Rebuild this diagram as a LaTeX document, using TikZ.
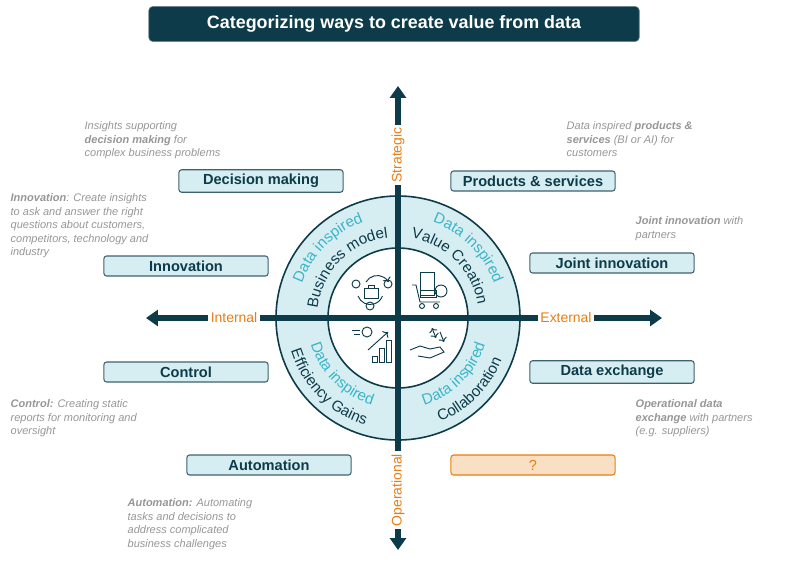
\documentclass[tikz,border=0pt]{standalone}
\usepackage{fontspec}
\setmainfont{Liberation Sans}
\usetikzlibrary{positioning, decorations.text, arrows.meta}
\definecolor{darkteal}{RGB}{14, 59, 73}
\definecolor{lightteal}{RGB}{214, 238, 242}
\definecolor{accentorange}{RGB}{230, 126, 20}
\definecolor{insightcyan}{RGB}{60, 180, 200}
\definecolor{notegray}{RGB}{150, 150, 150}
\newcommand{\arcfont}{\fontsize{11.5}{13}\selectfont}

\begin{document}
\begin{tikzpicture}[
    x=0.0265cm, y=-0.0265cm,
    catbox/.style={rectangle, rounded corners=2pt, draw=darkteal!80, fill=lightteal, thick, minimum width=4.35cm, minimum height=0.53cm, font=\fontsize{11}{12}\selectfont\bfseries, text=darkteal},
    qbox/.style={catbox, draw=accentorange, fill=accentorange!25, text=accentorange, font=\fontsize{11}{12}\selectfont},
    note/.style={align=left, text=notegray, font=\fontsize{8.3}{10.2}\selectfont\itshape},
    axislabel/.style={fill=white, text=accentorange, font=\fontsize{10.5}{12}\selectfont, inner sep=2pt},
    axis/.style={line width=4pt, darkteal, -{Triangle[length=9pt, width=12pt]}},
    arcpath/.style={decorate, decoration={text along path, text align=center, text={#1}}}
]
\useasboundingbox (0,0) rectangle (800,568);

% title
\node[rectangle, rounded corners=3pt, fill=darkteal, draw=darkteal!60, minimum width=13cm, minimum height=0.93cm, text=white, font=\fontsize{13.5}{15}\selectfont\bfseries] (title) at (394,24) {Categorizing ways to create value from data};

% ring
\coordinate (c) at (398,318);
\fill[lightteal] (c) circle[radius=122];
\draw[darkteal, line width=1.2pt] (c) circle[radius=122];
\draw[darkteal, line width=1.2pt, fill=white] (c) circle[radius=70];

% axes
\coordinate (top) at (398,86);
\coordinate (bottom) at (398,550);
\coordinate (left) at (146,318);
\coordinate (right) at (662,318);
\draw[axis] (c) -- (top);
\draw[axis] (c) -- (bottom);
\draw[axis] (c) -- (left);
\draw[axis] (c) -- (right);
\node[axislabel, rotate=90] (strat) at (398,155) {Strategic};
\node[axislabel, rotate=90] (oper) at (398,490) {Operational};
\node[axislabel] (intl) at (234,318) {Internal};
\node[axislabel] (extl) at (566,318) {External};

% arc texts
\begin{scope}[shift={(398,318)}, x=0.0265cm, y=0.0265cm]
  \path[arcpath={|\arcfont\color{insightcyan}|Data inspired}] (174:102) arc[start angle=174, end angle=96, radius=102];
  \path[arcpath={|\arcfont\color{darkteal}|Business model}] (174:81) arc[start angle=174, end angle=96, radius=81];
  \path[arcpath={|\arcfont\color{insightcyan}|Data inspired}] (84:102) arc[start angle=84, end angle=6, radius=102];
  \path[arcpath={|\arcfont\color{darkteal}|Value Creation}] (84:81) arc[start angle=84, end angle=6, radius=81];
  \path[arcpath={|\arcfont\color{insightcyan}|Data inspired}] (186:91) arc[start angle=186, end angle=264, radius=91];
  \path[arcpath={|\arcfont\color{darkteal}|Efficiency Gains}] (186:112) arc[start angle=186, end angle=264, radius=112];
  \path[arcpath={|\arcfont\color{insightcyan}|Data inspired}] (276:91) arc[start angle=276, end angle=354, radius=91];
  \path[arcpath={|\arcfont\color{darkteal}|Collaboration}] (276:112) arc[start angle=276, end angle=354, radius=112];
\end{scope}

% icons
\begin{scope}[darkteal, line width=0.7pt]
  \draw[->] (366,282) arc[start angle=-150, end angle=-30, radius=13];
  \draw (358,296) arc[start angle=-200, end angle=-340, radius=13];
  \draw (364,288) rectangle (378,298);
  \draw (368,288) -- (368,285) -- (374,285) -- (374,288);
  \draw (388,284) circle[radius=4];
  \draw (370,306) circle[radius=4];
  \draw (356,284) circle[radius=4];
  \draw (420,272) rectangle (434,295);
  \draw (412,285) -- (416,285) -- (420,302) -- (440,302);
  \draw (420,297) rectangle (436,290);
  \draw (422,306) circle[radius=2.5];
  \draw (436,306) circle[radius=2.5];
  \draw (441,291) circle[radius=6];
  \draw (372,356) rectangle (377,362) (379,348) rectangle (384,362) (386,340) rectangle (391,362);
  \draw[->] (368,350) -- (388,332);
  \draw (367,332) circle[radius=5];
  \draw (352,330) -- (360,330) (354,334) -- (360,334);
  \draw (410,350) -- (420,346) -- (430,349) -- (440,347) -- (444,352) -- (430,358) -- (418,356);
  \draw[<->] (432,328) -- (436,338);
  \draw[->] (440,332) -- (444,342);
\end{scope}

% category boxes
\node[catbox] (dec) at (261,181) {Decision making};
\node[catbox] (prod) at (533,181) {Products \& services};
\node[catbox] (inno) at (186,266) {Innovation};
\node[catbox] (joint) at (612,263) {Joint innovation};
\node[catbox] (ctrl) at (186,372) {Control};
\node[catbox] (dexc) at (612,372) {Data exchange};
\node[catbox] (auto) at (269,465) {Automation};
\node[qbox] (unknown) at (533,465) {?};

% notes
\node[note, anchor=north west] (decnote) at (80,117) {Insights supporting\\\textbf{decision making} for\\complex business problems};
\node[note, anchor=north west] (innonote) at (6,189) {\textbf{Innovation}: Create insights\\to ask and answer the right\\questions about customers,\\competitors, technology and\\industry};
\node[note, anchor=north west] (ctrlnote) at (6,395) {\textbf{Control:} Creating static\\reports for monitoring and\\oversight};
\node[note, anchor=north west] (autonote) at (123,494) {\textbf{Automation:} Automating\\tasks and decisions to\\address complicated\\business challenges};
\node[note, anchor=north west] (prodnote) at (562,117) {Data inspired \textbf{products \&}\\\textbf{services} (BI or AI) for\\customers};
\node[note, anchor=north west] (jointnote) at (631,212) {\textbf{Joint innovation} with\\partners};
\node[note, anchor=north west] (dexcnote) at (631,395) {\textbf{Operational data}\\\textbf{exchange} with partners\\(e.g. suppliers)};
\end{tikzpicture}
\end{document}
